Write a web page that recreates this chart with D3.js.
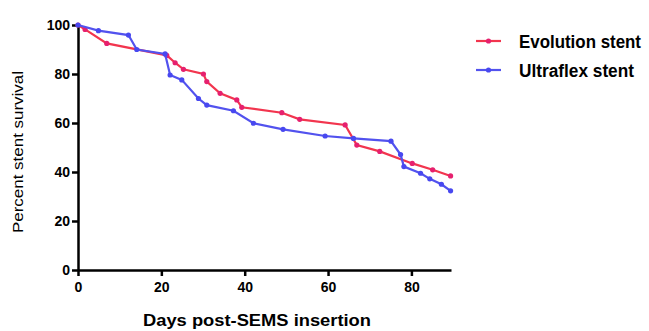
<!DOCTYPE html>
<html>
<head>
<meta charset="utf-8">
<script src="https://cdn.jsdelivr.net/npm/d3@7"></script>
<style>
  body { margin: 0; background: #fff; }
  svg text { font-family: "Liberation Sans", Arial, sans-serif; }
</style>
</head>
<body>
<svg id="chart"></svg>
<script>
const width = 649;
const height = 331;

// Evolution stent (red)
const evoDays = [0, 1.7, 6.9, 21.3, 23.3, 25.3, 30.1, 30.9, 34.1, 38.1, 39.3, 48.9, 53.2, 64.1, 66.9, 72.4, 80.2, 85.1, 89.4];
const evoSurv = [100, 98.2, 92.5, 87.6, 84.6, 81.9, 80, 76.9, 72.1, 69.4, 66.4, 64.2, 61.5, 59.2, 51, 48.4, 43.5, 40.9, 38.4];
// Ultraflex stent (blue)
const ultraDays = [0, 4.9, 12.1, 14.1, 20.9, 22.1, 24.9, 28.9, 30.9, 37.3, 42.1, 49.2, 59.3, 66.1, 75.1, 77.4, 78.2, 82.2, 84.4, 87.2, 89.4];
const ultraSurv = [100, 97.7, 95.9, 90, 88.2, 79.6, 77.6, 70, 67.3, 65, 59.9, 57.4, 54.7, 53.7, 52.6, 47.1, 42.2, 39.5, 37.2, 35, 32.3];

const xTicks = [0, 20, 40, 60, 80];
const yTicks = [0, 20, 40, 60, 80, 100];
const seriesNames = ["Evolution stent", "Ultraflex stent"];
const colors = ["#f2354e", "#5252ee"];
const markerColors = ["#e6206e", "#4848f0"];

const svg = d3.select("#chart").attr("width", width).attr("height", height);

const x = d3.scaleLinear().domain([0, 89.5]).range([78, 451]);
const y = d3.scaleLinear().domain([0, 100]).range([270, 25]);

// axes
const xAxis = svg.append("g")
    .attr("transform", "translate(0,270)")
    .call(d3.axisBottom(x).tickValues(xTicks).tickSize(6).tickSizeOuter(0).tickPadding(3));
const yAxis = svg.append("g")
    .attr("transform", "translate(78,0)")
    .call(d3.axisLeft(y).tickValues(yTicks).tickSize(6).tickSizeOuter(0).tickPadding(2));

[xAxis, yAxis].forEach(a => {
    a.select(".domain").attr("stroke", "#000").attr("stroke-width", 2.5);
    a.selectAll(".tick line").attr("stroke", "#000").attr("stroke-width", 2.5);
    a.selectAll(".tick text")
        .attr("fill", "#000")
        .style("font-size", "14px")
        .style("font-weight", "bold");
});
xAxis.selectAll(".tick text").attr("dy", "0.9em");

// series
const series = [
    evoDays.map((d, i) => [d, evoSurv[i]]),
    ultraDays.map((d, i) => [d, ultraSurv[i]])
];
const line = d3.line().x(d => x(d[0])).y(d => y(d[1]));

series.forEach((pts, k) => {
    svg.append("path")
        .datum(pts)
        .attr("d", line)
        .attr("fill", "none")
        .attr("stroke", colors[k])
        .attr("stroke-width", 2.2);
    svg.append("g").selectAll("circle")
        .data(pts)
        .enter().append("circle")
        .attr("cx", d => x(d[0]))
        .attr("cy", d => y(d[1]))
        .attr("r", 2.6)
        .attr("fill", markerColors[k]);
});

// legend
const legend = svg.append("g");
seriesNames.forEach((name, k) => {
    const ly = 41 + k * 29;
    legend.append("line")
        .attr("x1", 476).attr("x2", 501).attr("y1", ly).attr("y2", ly)
        .attr("stroke", colors[k]).attr("stroke-width", 2.2);
    legend.append("circle")
        .attr("cx", 488.5).attr("cy", ly).attr("r", 2.6)
        .attr("fill", markerColors[k]);
    legend.append("text")
        .attr("x", 519).attr("y", ly + 7)
        .attr("textLength", k === 0 ? 122 : 115)
        .attr("lengthAdjust", "spacingAndGlyphs")
        .style("font-size", "18px")
        .style("font-weight", "bold")
        .text(name);
});

// axis titles
svg.append("text")
    .attr("x", 257).attr("y", 326)
    .attr("text-anchor", "middle")
    .attr("textLength", 228)
    .attr("lengthAdjust", "spacingAndGlyphs")
    .style("font-size", "16px")
    .style("font-weight", "bold")
    .text("Days post-SEMS insertion");

svg.append("text")
    .attr("transform", "translate(23,152) rotate(-90)")
    .attr("text-anchor", "middle")
    .attr("textLength", 162)
    .attr("lengthAdjust", "spacingAndGlyphs")
    .style("font-size", "15px")
    .text("Percent stent survival");
</script>
</body>
</html>
